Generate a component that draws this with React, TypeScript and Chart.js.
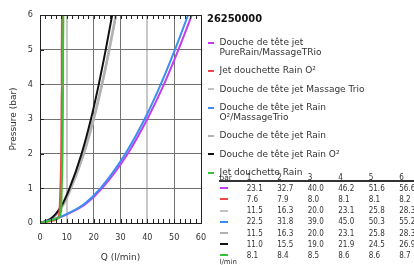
import { useEffect, useRef } from "react";
import { Chart, registerables } from "chart.js";

Chart.register(...registerables);

// ---------- data ----------
const legendTitle = "26250000";
const pressureBar = [1, 2, 3, 4, 5, 6];
const xTickValues = [0, 10, 20, 30, 40, 50, 60];
const yTickValues = [0, 1, 2, 3, 4, 5, 6];
const xTitle = "Q (l/min)";
const yTitle = "Pressure (bar)";
const tableHeader = "bar";
const tableUnit = "l/min";

const legendLines = [
  ["Douche de tête jet", "PureRain/MassageTRio"],
  ["Jet douchette Rain O²"],
  ["Douche de tête jet Massage Trio"],
  ["Douche de tête jet Rain", "O²/MassageTrio"],
  ["Douche de tête jet Rain"],
  ["Douche de tête jet Rain O²"],
  ["Jet douchette Rain"],
];

// flow (l/min) at 1..6 bar, from the table
const flowPureRain = [23.1, 32.7, 40.0, 46.2, 51.6, 56.6];
const flowHandRainO2 = [7.6, 7.9, 8.0, 8.1, 8.1, 8.2];
const flowMassageTrio = [11.5, 16.3, 20.0, 23.1, 25.8, 28.3];
const flowRainO2Massage = [22.5, 31.8, 39.0, 45.0, 50.3, 55.2];
const flowRain = [11.5, 16.3, 20.0, 23.1, 25.8, 28.3];
const flowRainO2 = [11.0, 15.5, 19.0, 21.9, 24.5, 26.9];
const flowHandRain = [8.1, 8.4, 8.5, 8.6, 8.6, 8.7];

// low-pressure start of each curve (below 1 bar)
const lowQPureRain = [0, 6.2, 10.8, 17.0];
const lowPPureRain = [0, 0.13, 0.28, 0.55];
const lowQHandRainO2 = [0, 4, 6.9, 7.3];
const lowPHandRainO2 = [0, 0.06, 0.17, 0.4];
const lowQMassageTrio = [0, 4.2, 8.3];
const lowPMassageTrio = [0, 0.12, 0.48];
const lowQRainO2Massage = [0, 6, 10.5, 16.5];
const lowPRainO2Massage = [0, 0.13, 0.28, 0.55];
const lowQRain = [0, 4.2, 8.3];
const lowPRain = [0, 0.12, 0.48];
const lowQRainO2 = [0, 4, 7.9];
const lowPRainO2 = [0, 0.12, 0.48];
const lowQHandRain = [0, 6.3, 7.9];
const lowPHandRain = [0, 0.12, 0.35];

// ---------- styles ----------
const seriesColors = ["#c53cf0", "#f04646", "#c4c4c4", "#3a8ff2", "#b2b2b2", "#111111", "#36c236"];
const seriesWidths = [2, 2, 2.5, 2, 2.5, 2, 2];
const seriesDrawOrder = [3, 1, 6, 2, 5, 4, 0]; // lower = on top

const flows = [flowPureRain, flowHandRainO2, flowMassageTrio, flowRainO2Massage, flowRain, flowRainO2, flowHandRain];
const lowQs = [lowQPureRain, lowQHandRainO2, lowQMassageTrio, lowQRainO2Massage, lowQRain, lowQRainO2, lowQHandRain];
const lowPs = [lowPPureRain, lowPHandRainO2, lowPMassageTrio, lowPRainO2Massage, lowPRain, lowPRainO2, lowPHandRain];

const COND = "'DejaVu Sans Condensed', 'DejaVu Sans', sans-serif";
const SANS = "'DejaVu Sans', sans-serif";

function buildCurve(i: number) {
  const pts = lowQs[i].map((q, k) => ({ x: q, y: lowPs[i][k] }));
  return pts.concat(pressureBar.map((p, k) => ({ x: flows[i][k], y: p })));
}

export default function App() {
  const ref = useRef<HTMLCanvasElement>(null);

  useEffect(() => {
    const framePlugin = {
      id: "frameTicks",
      afterDraw(chart: any) {
        const { ctx, chartArea, scales } = chart;
        const { left, right, top, bottom } = chartArea;
        ctx.save();
        ctx.strokeStyle = "#222";
        ctx.lineWidth = 1;
        ctx.beginPath();
        for (let v = 0; v <= 60; v += 2) {
          const px = Math.round(scales.x.getPixelForValue(v)) + 0.5;
          ctx.moveTo(px, bottom);
          ctx.lineTo(px, bottom - 4);
          ctx.moveTo(px, top);
          ctx.lineTo(px, top + 4);
        }
        for (const v of yTickValues) {
          const py = Math.round(scales.y.getPixelForValue(v)) + 0.5;
          ctx.moveTo(left, py);
          ctx.lineTo(left + 4, py);
        }
        ctx.stroke();
        ctx.strokeRect(left + 0.5, top + 0.5, right - left, bottom - top);
        ctx.restore();
      },
    };

    const chart = new Chart(ref.current as HTMLCanvasElement, {
      type: "line",
      data: {
        datasets: legendLines.map((lines, i) => ({
          label: lines.join(" "),
          data: buildCurve(i),
          borderColor: seriesColors[i],
          backgroundColor: seriesColors[i],
          borderWidth: seriesWidths[i],
          pointRadius: 0,
          cubicInterpolationMode: "monotone" as const,
          fill: false,
          order: seriesDrawOrder[i],
        })),
      },
      options: {
        animation: false,
        responsive: false,
        maintainAspectRatio: false,
        layout: { padding: { left: 0, top: 15, right: 213, bottom: 0 } },
        plugins: { legend: { display: false }, tooltip: { enabled: false } },
        scales: {
          x: {
            type: "linear",
            min: 0,
            max: 60,
            afterFit: (s: any) => {
              s.height = 42;
            },
            afterBuildTicks: (s: any) => {
              s.ticks = xTickValues.map((v) => ({ value: v }));
            },
            ticks: { padding: 9, maxRotation: 0, autoSkip: false, color: "#333", font: { family: COND, size: 9 } },
            grid: {
              drawTicks: false,
              color: (c: any) => {
                const v = c.tick ? c.tick.value : 0;
                if (v === 0 || v === 60) return "rgba(0,0,0,0)";
                return v === 10 || v === 40 ? "#c8c8c8" : "#727272";
              },
              lineWidth: (c: any) => {
                const v = c.tick ? c.tick.value : 0;
                return v === 10 || v === 40 ? 2 : 1;
              },
            },
            border: { display: false },
            title: { display: true, text: xTitle, color: "#333", font: { family: SANS, size: 9 }, padding: { top: 0, bottom: 2 } },
          },
          y: {
            type: "linear",
            min: 0,
            max: 6,
            afterFit: (s: any) => {
              s.width = 40;
            },
            afterBuildTicks: (s: any) => {
              s.ticks = yTickValues.map((v) => ({ value: v }));
            },
            ticks: { padding: 7, color: "#333", font: { family: COND, size: 9 } },
            grid: {
              drawTicks: false,
              color: (c: any) => {
                const v = c.tick ? c.tick.value : 0;
                return v === 0 || v === 6 ? "rgba(0,0,0,0)" : "#727272";
              },
            },
            border: { display: false },
            title: { display: true, text: yTitle, color: "#333", font: { family: SANS, size: 9 }, padding: { top: 8, bottom: 0 } },
          },
        },
      },
      plugins: [framePlugin],
    } as any);
    return () => chart.destroy();
  }, []);

  const colLeft = [246.7, 277.2, 307.7, 338.2, 368.7, 399.2];

  return (
    <div style={{ position: "fixed", left: 0, top: 0, width: 414, height: 265, overflow: "hidden", background: "#fff" }}>
      <canvas ref={ref} width={414} height={265} style={{ position: "absolute", left: 0, top: 0, width: 414, height: 265 }} />
      {/* legend */}
      <div style={{ position: "absolute", left: 207, top: 11.5, font: `bold 11px ${COND}`, fontStretch: "condensed", color: "#111", lineHeight: "14px", whiteSpace: "nowrap" }}>
        {legendTitle}
      </div>
      <div style={{ position: "absolute", left: 207, top: 38.1, width: 207 }}>
        {legendLines.map((lines, i) => (
          <div key={i} style={{ position: "relative", marginBottom: 9, height: lines.length * 9.5 }}>
            <div style={{ position: "absolute", left: 0.7, top: 3.9, width: 6, height: 2, background: seriesColors[i] }} />
            <div style={{ position: "absolute", left: 12.5, top: 0, font: `9px ${SANS}`, lineHeight: "9.5px", color: "#333", whiteSpace: "nowrap" }}>
              {lines.map((l, k) => (
                <div key={k}>{l}</div>
              ))}
            </div>
          </div>
        ))}
      </div>
      {/* table */}
      <div style={{ position: "absolute", left: 219.5, top: 171.5, font: `7.5px ${SANS}`, lineHeight: "11.2px", color: "#333" }}>{tableHeader}</div>
      {pressureBar.map((p, k) => (
        <div key={"h" + k} style={{ position: "absolute", left: colLeft[k], top: 171.5, font: `8px ${COND}`, fontStretch: "condensed", lineHeight: "11.2px", color: "#333" }}>
          {p}
        </div>
      ))}
      <div style={{ position: "absolute", left: 219, top: 180, width: 195, height: 2, background: "#333" }} />
      {flows.map((row, i) => (
        <div key={"r" + i}>
          <div style={{ position: "absolute", left: 220, top: 188.3 + i * 11.17 - 1, width: 8.3, height: 2, background: seriesColors[i] }} />
          {row.map((v, k) => (
            <div
              key={k}
              style={{ position: "absolute", left: colLeft[k], top: 188.3 + i * 11.17 - 5.45, font: `8px ${COND}`, fontStretch: "condensed", lineHeight: "11.2px", color: "#333", whiteSpace: "nowrap" }}
            >
              {v.toFixed(1)}
            </div>
          ))}
        </div>
      ))}
      <div style={{ position: "absolute", left: 219.5, top: 258, font: `7px ${SANS}`, lineHeight: "9px", color: "#333" }}>{tableUnit}</div>
    </div>
  );
}
